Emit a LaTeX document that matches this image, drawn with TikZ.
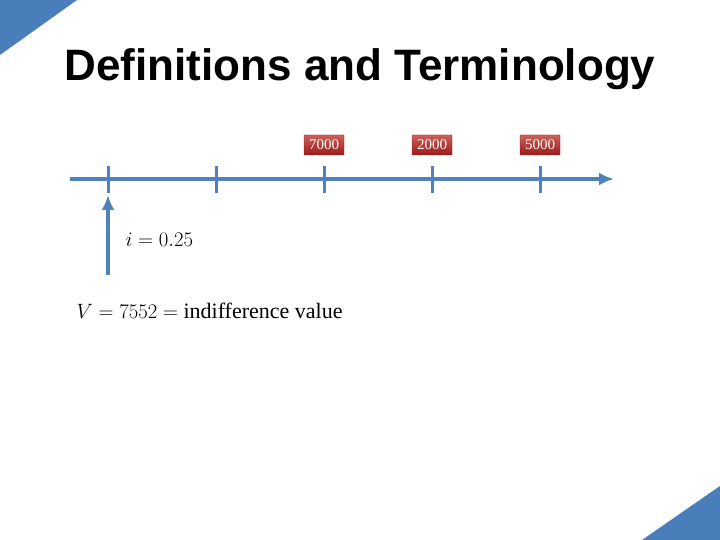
\documentclass[tikz,border=0pt]{standalone}
\usepackage{fontspec}
\setmainfont{Liberation Serif}
\setsansfont{Liberation Sans}
\usepackage{xcolor}
\usetikzlibrary{arrows.meta}
\definecolor{line-blue}{HTML}{4F81BD}
\definecolor{corner-blue}{HTML}{4A7EBB}
\definecolor{cash-red}{HTML}{C0392F}
\definecolor{cash-dark}{HTML}{9B1B1B}

\begin{document}
\begin{tikzpicture}[x=1pt, y=-1pt,
    cashbox/.style={draw=cash-dark, top color=cash-red!80!white, bottom color=cash-dark,
      text=white, font=\fontsize{15}{17}\selectfont, minimum width=40pt, minimum height=20pt,
      inner sep=1pt, rounded corners=0.5pt},
    tick/.style={line-blue, line width=3pt},
    flow/.style={-{Latex[length=15pt, width=13pt]}, line-blue, line width=3.4pt}]
    \useasboundingbox (0,0) rectangle (720,540);
    % corner decorations
    \fill[corner-blue] (0,0) -- (77,0) -- (0,55) -- cycle;
    \fill[corner-blue] (720,486) -- (720,540) -- (642,540) -- cycle;
    % title
    \node[font=\sffamily\bfseries\fontsize{44}{50}\selectfont] (title) at (360,69)
      {Definitions and Terminology};
    % time line
    \coordinate (start) at (70,179);
    \coordinate (end) at (614,179);
    \draw[flow] (start) -- (end);
    \draw[tick] (108,166) -- (108,193);
    \draw[tick] (216,166) -- (216,193);
    \draw[tick] (324,166) -- (324,193);
    \draw[tick] (432,166) -- (432,193);
    \draw[tick] (540,166) -- (540,193);
    % payments
    \node[cashbox] (pay1) at (324,145) {7000};
    \node[cashbox] (pay2) at (432,145) {2000};
    \node[cashbox] (pay3) at (540,145) {5000};
    % present value
    \coordinate (base) at (108,275);
    \coordinate (now) at (108,195);
    \draw[flow] (base) -- (now);
    \node[anchor=west, font=\fontsize{21}{24}\selectfont] (rate) at (122,240) {$i = 0.25$};
    \node[anchor=west, font=\fontsize{22}{26}\selectfont] (value) at (73,311)
      {$V = 7552 =$ indifference value};
\end{tikzpicture}
\end{document}
